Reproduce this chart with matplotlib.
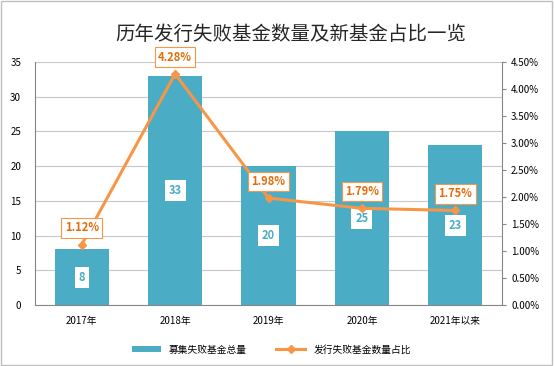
import matplotlib.pyplot as plt
import matplotlib.ticker as mticker
from matplotlib.patches import Rectangle

plt.rcParams['font.family'] = ['Noto Sans CJK SC', 'DejaVu Sans']

# 数据
categories = ['2017年', '2018年', '2019年', '2020年', '2021年以来']
fail_counts = [8, 33, 20, 25, 23]
fail_ratio = [1.12, 4.28, 1.98, 1.79, 1.75]

bar_color = '#4BACC6'
line_color = '#F79646'
text_orange = '#E46C0A'


def buat_grafik():
    fig = plt.figure(figsize=(5.54, 3.66), dpi=100)
    fig.patches.append(Rectangle((0.002, 0.003), 0.995, 0.993, transform=fig.transFigure,
                                 fill=False, edgecolor='#BFBFBF', linewidth=1))

    ax = fig.add_axes([0.0632, 0.1667, 0.8430, 0.6639])
    x = list(range(len(categories)))

    ax.bar(x, fail_counts, width=0.58, color=bar_color, zorder=2, label='募集失败基金总量')
    ax.set_ylim(0, 35)
    ax.set_xlim(-0.5, len(categories) - 0.5)
    ax.set_yticks(range(0, 36, 5))
    ax.set_xticks(x)
    ax.set_xticklabels(categories, fontsize=7)
    ax.tick_params(axis='y', length=0, labelsize=7, pad=10)
    ax.tick_params(axis='x', length=0, labelsize=7, pad=8)
    ax.grid(axis='y', color='#C8C8C8', linewidth=0.8, zorder=0)
    for s in ['left', 'bottom']:
        ax.spines[s].set_color('#868686')
    ax.spines['top'].set_visible(False)
    ax.spines['right'].set_visible(False)

    for xi, v in zip(x, fail_counts):
        ax.text(xi, v / 2, str(v), ha='center', va='center', fontsize=8, fontweight='bold',
                color=bar_color, zorder=5,
                bbox=dict(boxstyle='square,pad=0.35', facecolor='white', edgecolor='none'))

    ax2 = ax.twinx()
    ax2.plot(x, fail_ratio, color=line_color, linewidth=2.2, marker='D', markersize=4,
             zorder=3, label='发行失败基金数量占比')
    ax2.set_ylim(0, 4.5)
    ax2.set_yticks([i * 0.5 for i in range(10)])
    ax2.yaxis.set_major_formatter(mticker.FuncFormatter(lambda v, p: f'{v:.2f}%'))
    ax2.tick_params(axis='y', length=3, color='#868686', labelsize=7, direction='out')
    ax2.spines['right'].set_color('#868686')
    for s in ['top', 'left', 'bottom']:
        ax2.spines[s].set_visible(False)

    for xi, v in zip(x, fail_ratio):
        ax2.annotate(f'{v:.2f}%', (xi, v), xytext=(0, 12), textcoords='offset points',
                     ha='center', va='center', fontsize=8, fontweight='bold', color=text_orange,
                     bbox=dict(boxstyle='square,pad=0.3', facecolor='white',
                               edgecolor=line_color, linewidth=0.8), zorder=6)

    fig.text(0.525, 0.905, '历年发行失败基金数量及新基金占比一览', ha='center', va='center',
             fontsize=14, color='#262626')

    h1, l1 = ax.get_legend_handles_labels()
    h2, l2 = ax2.get_legend_handles_labels()
    fig.legend(h1 + h2, l1 + l2, loc='center', bbox_to_anchor=(0.49, 0.045), ncol=2,
               frameon=False, fontsize=7, handlelength=3, columnspacing=3, handleheight=0.6)

    plt.savefig('out.png', dpi=100)


if __name__ == "__main__":
    buat_grafik()
